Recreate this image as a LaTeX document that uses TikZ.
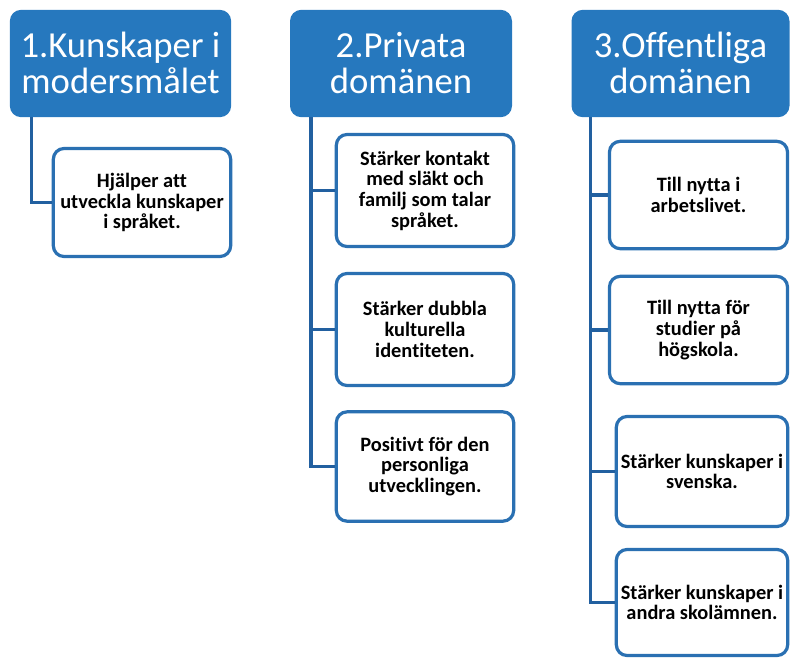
\documentclass[tikz,border=0pt]{standalone}
\usepackage{fontspec}
\setmainfont{Carlito}[Ligatures=NoCommon]
\definecolor{headblue}{RGB}{38,120,190}
\definecolor{boxblue}{RGB}{42,112,178}
\definecolor{linkblue}{RGB}{34,96,160}
\newcommand{\headtext}[1]{\raisebox{-3.5pt}[\height][\depth]{\begin{tabular}{@{}c@{}}#1\end{tabular}}}
\tikzset{
head/.style={draw=headblue,fill=headblue,line width=1pt,rounded corners=8pt,inner sep=0pt,text=white,align=center,font=\fontsize{27.5}{25.5}\selectfont},
item/.style={draw=boxblue,fill=white,line width=2.4pt,rounded corners=8pt,inner sep=0pt,align=center,font=\bfseries\fontsize{15.3}{15.5}\selectfont},
link/.style={draw=linkblue,line width=2.3pt}
}
\begin{document}
\begin{tikzpicture}[x=0.75pt,y=-0.75pt]
\useasboundingbox (0,0) rectangle (790,658);
\node[head,minimum width=165pt,minimum height=79.5pt] (h1) at (120.5,63.5) {\headtext{1.Kunskaper i\\modersmålet}};
\node[head,minimum width=165.5pt,minimum height=79.5pt] (h2) at (401,63.5) {\headtext{2.Privata\\domänen}};
\node[head,minimum width=162.5pt,minimum height=79.5pt] (h3) at (680.5,63.5) {\headtext{3.Offentliga\\domänen}};
\node[item,minimum width=133pt,minimum height=81pt] (k1) at (142,202.5) {Hjälper att\\utveckla kunskaper\\i språket.};
\node[item,minimum width=133pt,minimum height=84pt] (p1) at (425,190.5) {Stärker kontakt\\med släkt och\\familj som talar\\språket.};
\node[item,minimum width=133pt,minimum height=84pt] (p2) at (425,329.5) {Stärker dubbla\\kulturella\\identiteten.};
\node[item,minimum width=133pt,minimum height=82pt] (p3) at (425,466.5) {Positivt för den\\personliga\\utvecklingen.};
\node[item,minimum width=133.5pt,minimum height=80.5pt] (o1) at (698.5,195) {Till nytta i\\arbetslivet.};
\node[item,minimum width=133.5pt,minimum height=80.5pt] (o2) at (698.5,330) {Till nytta för\\studier på\\högskola.};
\node[item,minimum width=128.5pt,minimum height=82.5pt] (o3) at (702,471.5) {Stärker kunskaper i\\svenska.};
\node[item,minimum width=128.5pt,minimum height=79.5pt] (o4) at (702,602.5) {Stärker kunskaper i\\andra skolämnen.};
\draw[link] ([xshift=16.5pt]h1.south west) |- (k1.west);
\draw[link] ([xshift=15.75pt]h2.south west) |- (p3.west);
\draw[link] ([xshift=15.75pt]h2.south west) |- (p1.west);
\draw[link] ([xshift=15.75pt]h2.south west) |- (p2.west);
\draw[link] ([xshift=14.5pt]h3.south west) |- (o4.west);
\draw[link] ([xshift=14.5pt]h3.south west) |- (o1.west);
\draw[link] ([xshift=14.5pt]h3.south west) |- (o2.west);
\draw[link] ([xshift=14.5pt]h3.south west) |- (o3.west);
\end{tikzpicture}
\end{document}
